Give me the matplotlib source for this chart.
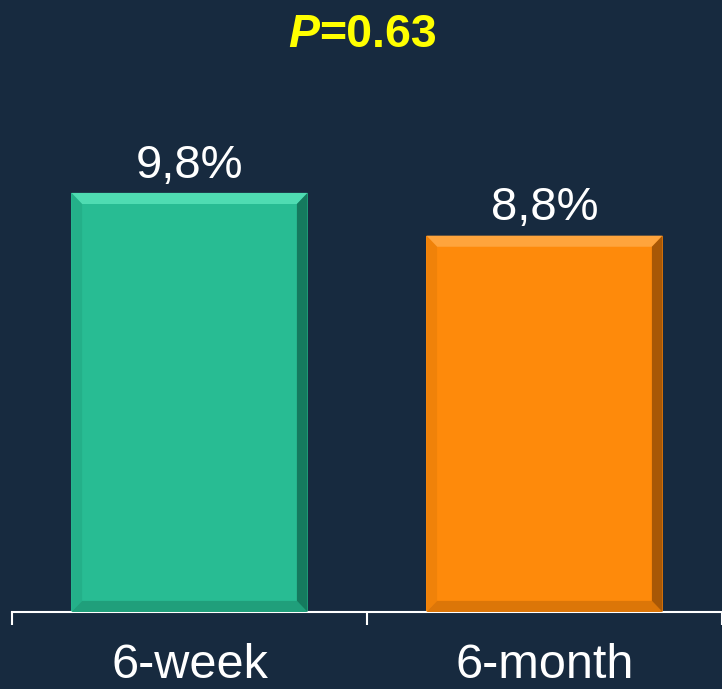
import numpy as np
import matplotlib
matplotlib.use("Agg")
import matplotlib.pyplot as plt
from matplotlib.patches import Polygon
from matplotlib.ticker import FixedLocator

# data
categories = ["6-week", "6-month"]
values = [9.8, 8.8]
value_labels = ["9,8%", "8,8%"]

plt.rcParams['font.family'] = ['Liberation Sans', 'DejaVu Sans']

bg = '#172a3f'
face = ['#28bc93', '#fe8a0b']
light = ['#4fdcb2', '#ffa43c']
dark = ['#157a5e', '#a85806']
shade = ['#209f7b', '#dc7608']

fig = plt.figure(figsize=(7.22, 6.89), dpi=100, facecolor=bg)
ax = fig.add_axes([12 / 722, 77 / 689, 710 / 722, 612 / 689])
ax.set_facecolor(bg)

x = np.arange(len(categories))
bars = ax.bar(x, values, width=0.665, color=face, zorder=2)
ax.set_xlim(-0.5, 1.5)
ax.set_ylim(0, 14.31)

# bevel look on each bar, from the bar geometry
bx = 0.03   # bevel width in x data units
by = 0.26   # bevel height in y data units
for i, b in enumerate(bars):
    x0, y0 = b.get_x(), b.get_y()
    x1, y1 = x0 + b.get_width(), y0 + b.get_height()
    top = [(x0, y1), (x1, y1), (x1 - bx, y1 - by), (x0 + bx, y1 - by)]
    right = [(x1, y1), (x1, y0), (x1 - bx, y0 + by), (x1 - bx, y1 - by)]
    bottom = [(x0, y0), (x1, y0), (x1 - bx, y0 + by), (x0 + bx, y0 + by)]
    left = [(x0, y0), (x0, y1), (x0 + bx, y1 - by), (x0 + bx, y0 + by)]
    ax.add_patch(Polygon(top, closed=True, color=light[i], lw=0, zorder=3))
    ax.add_patch(Polygon(bottom, closed=True, color=shade[i], lw=0, zorder=3))
    ax.add_patch(Polygon(left, closed=True, color=shade[i], lw=0, zorder=3, alpha=0.4))
    ax.add_patch(Polygon(right, closed=True, color=dark[i], lw=0, zorder=4))
    ax.annotate(value_labels[i], (b.get_x() + b.get_width() / 2, y1),
                xytext=(0, 11), textcoords='offset points',
                ha='center', va='baseline', color='white', fontsize=34)

for s in ['top', 'right', 'left']:
    ax.spines[s].set_visible(False)
ax.spines['bottom'].set_color('white')
ax.spines['bottom'].set_linewidth(1.5)
ax.set_yticks([])

ax.set_xticks(x)
ax.set_xticklabels(categories, fontsize=35, color='white')
ax.tick_params(axis='x', which='major', length=0, pad=22)
ax.xaxis.set_minor_locator(FixedLocator([-0.5, 0.5, 1.5]))
ax.tick_params(axis='x', which='minor', length=9.5, width=1.5, color='white')

fig.text(0.442, 1 - 47 / 689, 'P', fontsize=33.5, fontweight='bold',
         fontstyle='italic', color='#ffff00', ha='right', va='baseline')
fig.text(0.442, 1 - 47 / 689, '=0.63', fontsize=33.5, fontweight='bold',
         color='#ffff00', ha='left', va='baseline')

fig.savefig('out.png', dpi=100, facecolor=bg)
